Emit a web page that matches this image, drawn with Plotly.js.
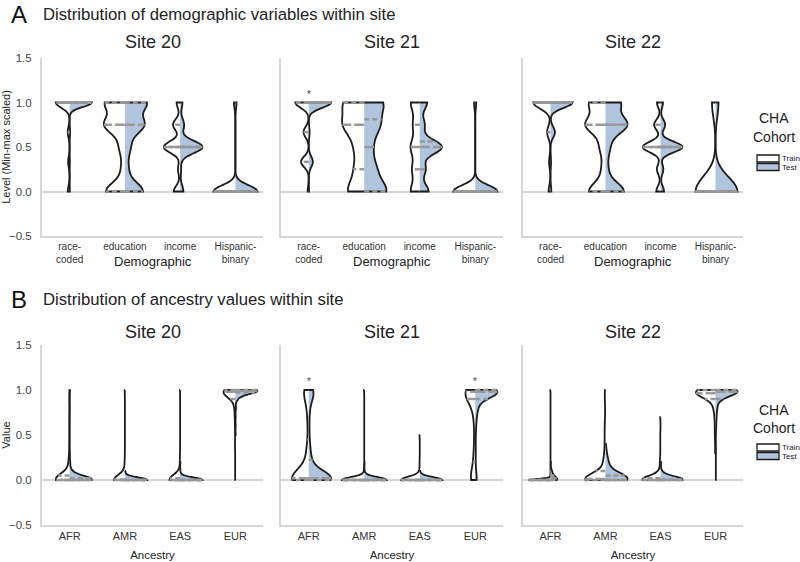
<!DOCTYPE html>
<html><head><meta charset="utf-8">
<script src="https://cdn.plot.ly/plotly-3.0.1.min.js"></script>
<style>html,body{margin:0;padding:0;background:#fff}#chart{width:800px;height:562px}</style>
</head><body><div id="chart"></div>
<script>
// ---------------- DATA ----------------
const sites = ['Site 20', 'Site 21', 'Site 22'];
const demoCats = ['race-coded', 'education', 'income', 'Hispanic-binary'];
const demoTicks = ['race-<br>coded', 'education', 'income', 'Hispanic-<br>binary'];
const ancCats = ['AFR', 'AMR', 'EAS', 'EUR'];
const cohorts = ['Train', 'Test'];

// value levels
const raceLevels = [0, 1/3, 2/3, 1];
const fiveLevels = [0, 0.25, 0.5, 0.75, 1];
const binLevels = [0, 1];
const ancLevels = [0, 0.02, 0.05, 0.1, 0.2, 0.3, 0.4, 0.5, 0.6, 0.7, 0.8, 0.9, 0.95, 0.98, 1.0];

// Panel A: counts per level  [race-coded, education, income, Hispanic-binary]
const a20Train = [[10, 8, 10, 72], [28, 5, 8, 30, 29], [18, 6, 46, 20, 10], [94, 6]];
const a20Test  = [[1, 1, 2, 96], [27, 5, 8, 28, 32], [10, 3, 68, 12, 7], [95, 5]];
const a21Train = [[4, 28, 19, 49], [22, 12, 12, 27, 27], [22, 18, 22, 16, 22], [95, 5]];
const a21Test  = [[1, 15, 3, 81], [30, 15, 10, 20, 25], [18, 12, 45, 10, 15], [96, 4]];
const a22Train = [[8, 6, 14, 72], [27, 6, 9, 32, 26], [12, 10, 50, 18, 10], [85, 15]];
const a22Test  = [[3, 2, 16, 79], [30, 4, 7, 35, 24], [10, 8, 62, 13, 7], [88, 12]];

// Panel B: counts per ancestry level  [AFR, AMR, EAS, EUR]
const b20Train = [[60,12,8,6,5,2,1,1,1,1,0,1,0,0,1], [75,12,6,4,2,0,0,0,0,0,0,0,0,0,1], [72,12,8,4,2,1,0,0,0,0,0,0,0,0,1], [1,0,0,1,1,1,2,1,2,3,5,12,20,20,31]];
const b20Test  = [[70,12,8,5,2,1,0,0,0,0,0,0,0,0,1], [85,10,3,1,0,0,0,0,0,0,0,0,0,0,0], [85,10,3,1,1,0,0,0,0,0,0,0,0,0,0], [0,0,0,0,0,0,0,1,1,1,2,6,14,25,50]];
const b21Train = [[30,8,5,4,4,3,2,1,1,2,2,2,3,3,5], [88,6,3,1,0,0,0,0,0,0,0,0,0,0,1], [86,7,3,2,1,0,0,1,0,0,0,0,0,0,0], [10,3,3,3,4,3,2,2,2,3,5,8,10,12,14]];
const b21Test  = [[40,12,10,8,5,3,2,1,1,1,2,3,4,4,4], [90,6,2,1,1,0,0,0,0,0,0,0,0,0,0], [90,6,2,1,0,0,0,0,0,0,0,0,0,0,0], [2,1,1,1,1,1,1,1,2,3,6,10,15,20,31]];
const b22Train = [[96,2,1,0,0,0,0,0,0,0,0,0,0,0,1], [50,12,10,8,6,3,2,2,2,1,1,1,1,0,1], [70,10,8,5,3,1,1,1,0,1,0,0,0,0,0], [0,0,0,0,0,1,1,2,2,3,6,15,20,20,30]];
const b22Test  = [[45,20,15,12,3,0,0,0,0,0,0,0,0,0,0], [50,15,12,10,8,3,1,0,0,0,0,0,0,0,0], [75,12,8,3,2,0,0,0,0,0,0,0,0,0,0], [1,0,0,1,1,1,1,1,2,3,5,10,15,24,35]];

// significance markers (*)
const sigA = [[], ['race-coded'], []];
const sigB = [[], ['AFR', 'EUR'], []];

// ---------------- KDE bandwidths (rendering) ----------------
const bwA20 = [[0.06, 0.1, 0.065, 0.07], [0.05, 0.1, 0.07, 0.07]];
const bwA21 = [[0.06, 0.12, 0.1, 0.07], [0.06, 0.12, 0.08, 0.07]];
const bwA22 = [[0.07, 0.1, 0.06, 0.17], [0.06, 0.1, 0.06, 0.16]];
const bwB20 = [[0.06, 0.05, 0.05, 0.05], [0.04, 0.025, 0.025, 0.03]];
const bwB21 = [[0.1, 0.03, 0.035, 0.1], [0.08, 0.03, 0.03, 0.06]];
const bwB22 = [[0.012, 0.06, 0.04, 0.05], [0.03, 0.06, 0.035, 0.045]];

// ---------------- BUILD ----------------
const W = 800, H = 562;
const FONT = 'Liberation Sans, Arial, sans-serif';
const xDomPx = [[42, 263], [281, 503], [523, 743]];
const yDomPx = [[58, 236], [345, 525]];
const VGAP = 0.2;                       // violingap -> half width = 0.5*(1-gap)
const BDPOS = 0.5 * (1 - VGAP);
const LINE = '#1c1c1c', AXC = '#d6d6d6', QC = '#999999';
const FILLS = ['#ffffff', '#b0c4de'];

const panels = [
  {cats: demoCats, ticks: demoTicks, levels: [raceLevels, fiveLevels, fiveLevels, binLevels],
   data: [[a20Train, a20Test], [a21Train, a21Test], [a22Train, a22Test]], bw: [bwA20, bwA21, bwA22],
   sig: sigA, xtitle: 'Demographic', ytitle: 'Level (Min-max scaled)'},
  {cats: ancCats, ticks: ancCats, levels: [ancLevels, ancLevels, ancLevels, ancLevels],
   data: [[b20Train, b20Test], [b21Train, b21Test], [b22Train, b22Test]], bw: [bwB20, bwB21, bwB22],
   sig: sigB, xtitle: 'Ancestry', ytitle: 'Value'}
];

function expand(levels, counts) {
  const out = [];
  counts.forEach((c, i) => { for (let k = 0; k < c; k++) out.push(levels[i]); });
  return out;
}
function kdeFn(vals, bw) {
  const f = 1 / (vals.length * bw * Math.sqrt(2 * Math.PI));
  return t => { let s = 0; for (const v of vals) { const u = (t - v) / bw; s += Math.exp(-0.5 * u * u); } return f * s; };
}
function maxKDE(vals, bw) {
  const mn = Math.min(...vals), mx = Math.max(...vals), k = kdeFn(vals, bw);
  const dist = mx - mn, n = Math.ceil(dist / (bw / 3)), step = dist / n;
  let m = 0;
  for (let t = mn; t < mx + step / 2; t += step) m = Math.max(m, k(t));
  return m;
}
function quantile(sorted, p) {
  const pos = (sorted.length - 1) * p, lo = Math.floor(pos), hi = Math.ceil(pos);
  return sorted[lo] + (sorted[hi] - sorted[lo]) * (pos - lo);
}

const traces = [];
const layout = {
  width: W, height: H, margin: {l: 0, r: 0, t: 0, b: 0},
  paper_bgcolor: '#fff', plot_bgcolor: 'rgba(0,0,0,0)',
  showlegend: false, violinmode: 'overlay', violingap: VGAP, violingroupgap: 0, hovermode: false,
  font: {family: FONT, color: '#333'},
  annotations: [], shapes: []
};

panels.forEach((P, pi) => {
  sites.forEach((site, si) => {
    const k = pi * 3 + si + 1;
    const xa = 'x' + (k === 1 ? '' : k), ya = 'y' + (k === 1 ? '' : k);
    const qx = [[], [], []], qy = [[], [], []]; // q25, q50, q75 segments
    P.cats.forEach((cat, ci) => {
      const samples = [0, 1].map(h => expand(P.levels[ci], P.data[si][h][ci]));
      const bws = [0, 1].map(h => P.bw[si][h][ci]);
      const gmax = Math.max(maxKDE(samples[0], bws[0]), maxKDE(samples[1], bws[1]));
      const scale = gmax / BDPOS;
      [0, 1].forEach(h => {
        traces.push({
          type: 'violin', xaxis: xa, yaxis: ya, name: cohorts[h],
          x: samples[h].map(() => ci), y: samples[h], orientation: 'v',
          side: h === 0 ? 'negative' : 'positive',
          spanmode: 'hard', bandwidth: bws[h], scalegroup: 'g' + k + '_' + ci, scalemode: 'width',
          points: false, box: {visible: false}, meanline: {visible: false},
          fillcolor: FILLS[h], line: {color: LINE, width: 1.8}, opacity: 1,
          hoverinfo: 'skip', showlegend: false
        });
        const sorted = samples[h].slice().sort((a, b) => a - b);
        const kd = kdeFn(samples[h], bws[h]);
        const sgn = h === 0 ? -1 : 1;
        [0.25, 0.5, 0.75].forEach((p, qi) => {
          const q = quantile(sorted, p);
          const off = kd(q) / scale;
          qx[qi].push(ci, ci + sgn * off, null);
          qy[qi].push(q, q, null);
        });
      });
      if (P.sig[si].includes(cat)) {
        layout.annotations.push({xref: xa, yref: ya, x: ci, y: 1.09, text: '*', showarrow: false,
          font: {size: 10, color: '#444'}, xanchor: 'center', yanchor: 'middle'});
      }
    });
    [0, 1, 2].forEach(qi => {
      traces.push({type: 'scatter', mode: 'lines', xaxis: xa, yaxis: ya, x: qx[qi], y: qy[qi],
        line: {color: QC, width: 2.5, dash: qi === 1 ? '10px,3px' : '5px,3px'},
        hoverinfo: 'skip', showlegend: false});
    });
    const xd = xDomPx[si], yd = yDomPx[pi];
    layout['xaxis' + (k === 1 ? '' : k)] = {
      domain: [xd[0] / W, xd[1] / W], anchor: ya, range: [-0.5, 3.5],
      tickvals: P.cats.map((c, i) => i), ticktext: P.ticks,
      showline: true, linecolor: AXC, linewidth: 2, showgrid: false, zeroline: false, ticks: '',
      tickfont: {size: pi === 0 ? 10 : 11, color: '#333'},
      title: pi === 1 ? {text: P.xtitle, font: {size: 11.5, color: '#222'}, standoff: 10} : {text: ''},
      fixedrange: true
    };
    if (pi === 0) {
      layout.annotations.push({xref: 'paper', yref: 'paper', x: (xd[0] + xd[1]) / 2 / W, y: 1 - 261 / H,
        text: P.xtitle, showarrow: false, xanchor: 'center', yanchor: 'middle', font: {size: 13, color: '#222'}});
    }
    layout['yaxis' + (k === 1 ? '' : k)] = {
      domain: [1 - yd[1] / H, 1 - yd[0] / H], anchor: xa, range: [-0.5, 1.5],
      tickvals: [-0.5, 0, 0.5, 1, 1.5], tickformat: '.1f', showticklabels: si === 0,
      tickfont: {size: 11.5, color: '#444'}, ticklabelstandoff: 6,
      showline: true, linecolor: AXC, linewidth: 2, showgrid: false,
      zeroline: true, zerolinecolor: AXC, zerolinewidth: 2, ticks: '',
      title: si === 0 ? {text: P.ytitle, font: {size: 11, color: '#222'}, standoff: 2} : {text: ''},
      fixedrange: true
    };
    // subplot title
    layout.annotations.push({xref: 'paper', yref: 'paper', x: (xd[0] + xd[1]) / 2 / W,
      y: 1 - (pi === 0 ? 42 : 332) / H, text: site, showarrow: false, xanchor: 'center', yanchor: 'middle',
      font: {size: 18, color: '#222'}});
  });
});

// panel titles
[['A', 'Distribution of demographic variables within site', 15], ['B', 'Distribution of ancestry values within site', 300]].forEach(t => {
  layout.annotations.push({xref: 'paper', yref: 'paper', x: 9 / W, y: 1 - t[2] / H, text: t[0], showarrow: false,
    xanchor: 'left', yanchor: 'middle', font: {size: 24, color: '#111'}});
  layout.annotations.push({xref: 'paper', yref: 'paper', x: 41 / W, y: 1 - (t[2] - 1) / H, text: t[1], showarrow: false,
    xanchor: 'left', yanchor: 'middle', font: {size: 16.7, color: '#222'}});
});

// legends (one per panel)
[[118, 137, 155], [410, 428, 444]].forEach(L => {
  layout.annotations.push({xref: 'paper', yref: 'paper', x: 774 / W, y: 1 - L[0] / H, text: 'CHA', showarrow: false,
    xanchor: 'center', yanchor: 'middle', font: {size: 14, color: '#222'}});
  layout.annotations.push({xref: 'paper', yref: 'paper', x: 774 / W, y: 1 - L[1] / H, text: 'Cohort', showarrow: false,
    xanchor: 'center', yanchor: 'middle', font: {size: 14, color: '#222'}});
  cohorts.forEach((c, h) => {
    const top = L[2] + h * 8.5;
    layout.shapes.push({type: 'rect', xref: 'paper', yref: 'paper', x0: 757 / W, x1: 779 / W,
      y0: 1 - top / H, y1: 1 - (top + 7) / H, fillcolor: FILLS[h], line: {color: LINE, width: 1.3}});
    layout.annotations.push({xref: 'paper', yref: 'paper', x: 779.5 / W, y: 1 - (top + 3.5) / H, text: c,
      showarrow: false, xanchor: 'left', yanchor: 'middle', font: {size: 8, color: '#222'}});
  });
});

Plotly.newPlot('chart', traces, layout, {staticPlot: true, displayModeBar: false});
</script>
</body></html>
